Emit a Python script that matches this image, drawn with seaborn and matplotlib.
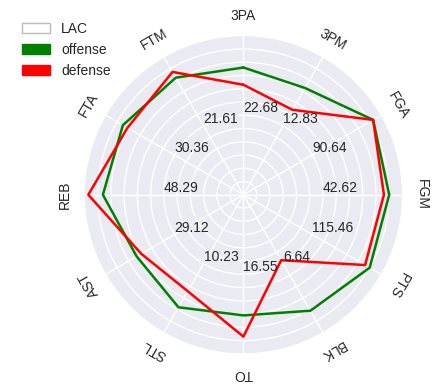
import numpy as np
import matplotlib
matplotlib.use("Agg")
import matplotlib.pyplot as plt
import matplotlib.patches as mpatches
import seaborn as sns

# --- Data (clockwise from the top) ---
categories = ['3PA', '3PM', 'FGA', 'FGM', 'PTS', 'BLK', 'TO', 'STL', 'AST', 'REB', 'FTA', 'FTM']
scale_labels = ['22.68', '12.83', '90.64', '42.62', '115.46', '6.64',
                '16.55', '10.23', '29.12', '48.29', '30.36', '21.61']
# values on the normalised radial scale (0 .. 1.2)
offense = [0.96, 0.93, 1.13, 1.10, 1.10, 1.01, 0.91, 0.98, 0.93, 1.06, 1.05, 1.02]
defense = [0.83, 0.74, 1.13, 1.06, 1.06, 0.57, 1.07, 0.84, 0.89, 1.17, 1.01, 1.07]
team = 'LAC'

# --- Style ---
sns.set_style("darkgrid")
plt.rcParams['font.family'] = ['Liberation Sans', 'DejaVu Sans']

fig = plt.figure(figsize=(4.37, 3.88), dpi=100)
ax = fig.add_axes([0.193, 0.088, 0.728, 0.82], polar=True)
ax.set_theta_offset(np.pi / 2)
ax.set_theta_direction(-1)

n = len(categories)
theta = np.linspace(0, 2 * np.pi, n, endpoint=False)
theta_closed = np.append(theta, theta[0])

ax.plot(theta_closed, offense + offense[:1], color='green', linewidth=1.8)
ax.plot(theta_closed, defense + defense[:1], color='red', linewidth=1.8)

ax.set_ylim(0, 1.2)
ax.set_yticks(np.arange(0.1, 1.2, 0.1))
ax.set_yticklabels([])
ax.set_xticks(theta)
ax.set_xticklabels([])
ax.grid(True, color='white', linewidth=1)

# category labels, rotated along the circle
for i, (t, cat) in enumerate(zip(theta, categories)):
    ax.text(t, 1.2 * 1.125, cat, rotation=-30 * i, ha='center', va='center',
            rotation_mode='anchor', fontsize=10, color='.15')

# one scale value per axis
for t, lab in zip(theta, scale_labels):
    ax.text(t, 0.6, lab, ha='left', va='bottom', fontsize=10, color='.15')

handles = [
    mpatches.Patch(facecolor='white', edgecolor='#bbbbbb', label=team),
    mpatches.Patch(facecolor='green', edgecolor='green', label='offense'),
    mpatches.Patch(facecolor='red', edgecolor='red', label='defense'),
]
fig.legend(handles=handles, loc='upper left', bbox_to_anchor=(0.022, 0.976),
           frameon=False, fontsize=10)

fig.savefig("out.png", dpi=100)
